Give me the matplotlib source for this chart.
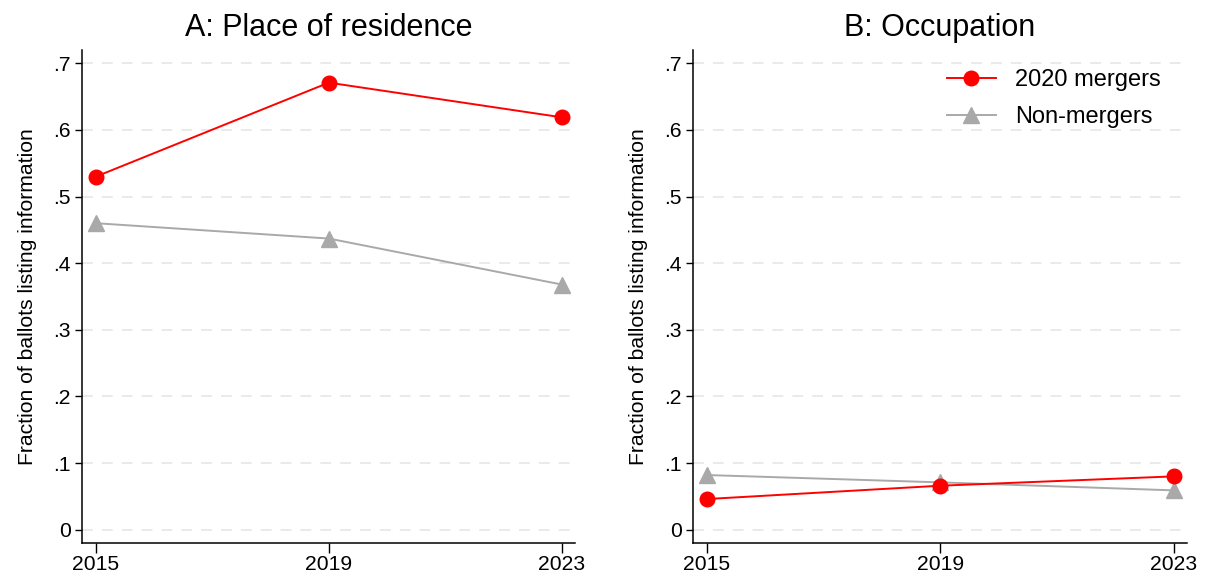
import matplotlib
matplotlib.use("Agg")
import matplotlib.pyplot as plt

years = [2015, 2019, 2023]
res_mergers = [0.530, 0.671, 0.619]
res_nonmergers = [0.460, 0.437, 0.368]
occ_mergers = [0.046, 0.066, 0.080]
occ_nonmergers = [0.082, 0.071, 0.059]
yticks = [0, 0.1, 0.2, 0.3, 0.4, 0.5, 0.6, 0.7]
ytick_labels = ["0", ".1", ".2", ".3", ".4", ".5", ".6", ".7"]
titles = ["A: Place of residence", "B: Occupation"]
ylabel = "Fraction of ballots listing information"
legend_labels = ["2020 mergers", "Non-mergers"]

plt.rcParams['font.family'] = ['Liberation Sans', 'DejaVu Sans']

fig = plt.figure(figsize=(12.07, 5.81), dpi=100)
W, H = 1207, 581
ax1 = fig.add_axes([82 / W, 1 - 543 / H, 493 / W, 493 / H])
ax2 = fig.add_axes([693 / W, 1 - 543 / H, 494 / W, 493 / H])

red = "#ff0000"
gray = "#a9a9a9"

for ax, m, nm, t in [(ax1, res_mergers, res_nonmergers, titles[0]),
                     (ax2, occ_mergers, occ_nonmergers, titles[1])]:
    ax.set_xlim(2014.76, 2023.23)
    ax.set_ylim(-0.02, 0.72)
    for y in yticks:
        ax.axhline(y, color="#e8e8e8", lw=1.3, ls=(0, (6, 5)), zorder=0)
    ax.plot(years, m, color=red, lw=1.4, marker="o", ms=10.5, label=legend_labels[0], zorder=3)
    ax.plot(years, nm, color=gray, lw=1.4, marker="^", ms=11, label=legend_labels[1], zorder=2)
    ax.set_xticks(years)
    ax.set_xticklabels([str(y) for y in years], fontsize=15.2)
    ax.set_yticks(yticks)
    ax.set_yticklabels(ytick_labels, fontsize=15.2)
    ax.tick_params(axis="x", length=7, width=1, pad=2)
    ax.tick_params(axis="y", length=5, width=1, pad=3)
    for s in ["top", "right"]:
        ax.spines[s].set_visible(False)
    for s in ["left", "bottom"]:
        ax.spines[s].set_linewidth(1.1)
    ax.set_title(t, fontsize=22, pad=10)
    ax.set_ylabel(ylabel, fontsize=15.2, labelpad=12)

leg = ax2.legend(loc="upper right", frameon=False, fontsize=17, handlelength=2.1,
                 handletextpad=0.8, borderaxespad=0.0, bbox_to_anchor=(0.966, 0.98),
                 labelspacing=0.62)

fig.savefig("out.png", dpi=100)
